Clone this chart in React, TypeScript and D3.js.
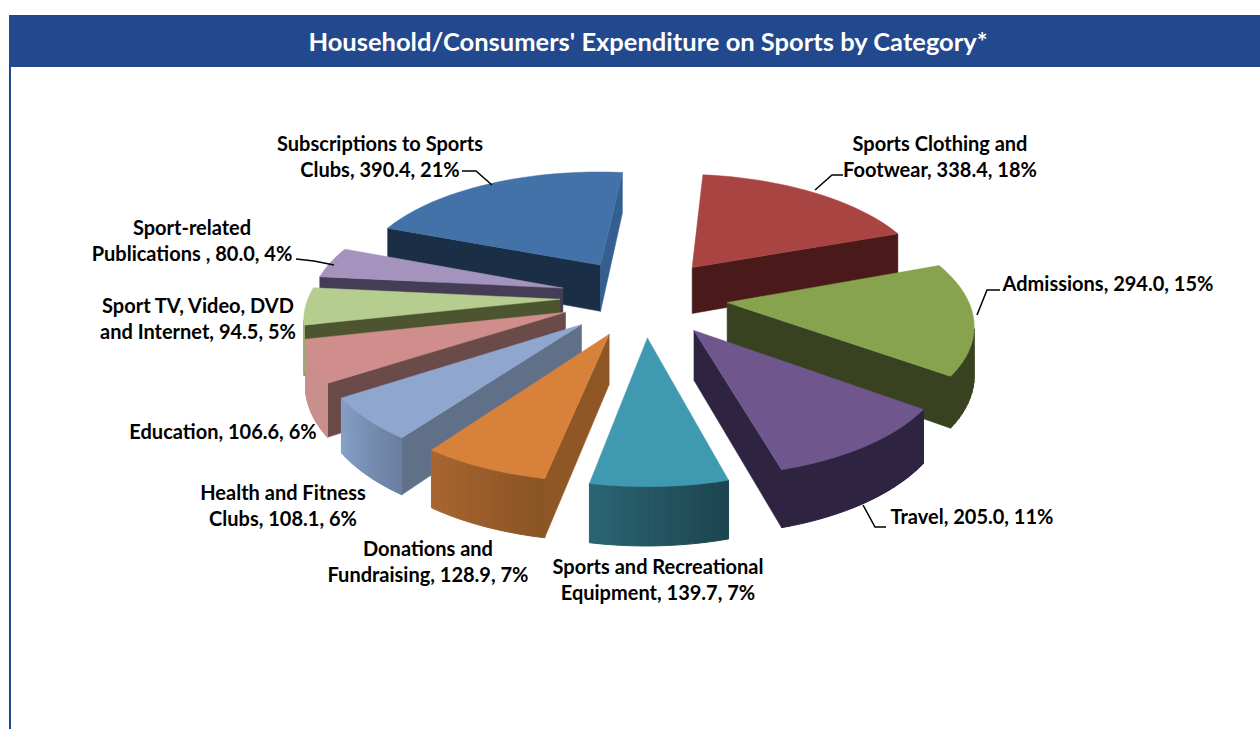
import * as d3 from "d3";

const categories = [
  "Sports Clothing and\nFootwear",
  "Admissions",
  "Travel",
  "Sports and Recreational\nEquipment",
  "Donations and\nFundraising",
  "Health and Fitness\nClubs",
  "Education",
  "Sport TV, Video, DVD\nand Internet",
  "Sport-related\nPublications ",
  "Subscriptions to Sports\nClubs",
];
const values = [338.4, 294.0, 205.0, 139.7, 128.9, 108.1, 106.6, 94.5, 80.0, 390.4];
const shares = [18, 15, 11, 7, 7, 6, 6, 5, 4, 21];

const topColors = ["#a84442", "#87a34d", "#6f568d", "#3f99b1", "#d8813a", "#8fa6cf", "#cf8e8b", "#b6cd90", "#a493bd", "#4272a8"];
const startWallColors = ["#4a1a1a", "#384220", "#2e2340", "#245a68", "#8f5725", "#5f7088", "#6b4a4a", "#4d5530", "#453c55", "#1a2e45"];
const endWallColors = ["#4a1a1a", "#384220", "#2e2340", "#245a68", "#b06a2c", "#5f7088", "#6b4a4a", "#4d5530", "#453c55", "#345f90"];
const outerFromColors = ["#4a1a1a", "#384220", "#2e2340", "#1c4550", "#8a5525", "#6a7ea0", "#c98f8c", "#9db07a", "#453c55", "#1a2e45"];
const outerToColors = ["#4a1a1a", "#384220", "#2e2340", "#2a6472", "#a86530", "#84a0c4", "#c98f8c", "#9db07a", "#453c55", "#1a2e45"];

const labelAnchors: [number, number][] = [
  [940, 151], [1108, 291], [972, 524], [658, 574], [428, 556],
  [283, 500], [223, 439], [198, 313], [192, 235], [380, 151],
];
const leaders: [number, number][][] = [
  [[815, 190], [832, 175], [843, 175]],
  [[977, 315], [987, 290], [1000, 290]],
  [[863, 505], [875, 527], [886, 527]],
  [],
  [],
  [],
  [],
  [],
  [[296, 259], [314, 261], [334, 265]],
  [[462, 171], [476, 171], [492, 185]],
];

const WIDTH = 1260;
const HEIGHT = 729;
const cx = 644;
const cy = 297;
const rx = 245;
const ry = 114;
const persp = 0.143;
const shear = 0.08;
const roll = 0.045;
const explode = 0.34;
const depth = 48;
const FONT = "Lato, 'Open Sans', sans-serif";
const BLUE = "#22488d";

const arcs = d3.pie<number>().sort(null).startAngle(0).endAngle(2 * Math.PI)(values);
const lineGen = d3.line<[number, number]>().curve(d3.curveLinearClosed);

function project(x: number, z: number, h: number): [number, number] {
  const s = 1 / (1 + persp * z);
  return [cx + rx * (x + shear * z) * s, cy + (roll * rx * x - ry * z + depth * h) * s];
}

// d3.polygonArea is negative for clockwise-on-screen rings, flip it
function shoelace(pts: [number, number][]) {
  return -d3.polygonArea(pts);
}

function Slice({ i }: { i: number }) {
  const a = arcs[i];
  const mid = (a.startAngle + a.endAngle) / 2;
  const ox = explode * Math.sin(mid);
  const oz = explode * Math.cos(mid);
  const pt = (ang: number, r: number, h: number) =>
    project(ox + r * Math.sin(ang), oz + r * Math.cos(ang), h);

  const steps = d3.range(0, 25).map((k) => a.startAngle + ((a.endAngle - a.startAngle) * k) / 24);
  const tipTop = pt(0, 0, 0);
  const tipBottom = pt(0, 0, 1);
  const top: [number, number][] = [tipTop, ...steps.map((t) => pt(t, 1, 0))];

  const startWall: [number, number][] = [tipTop, pt(a.startAngle, 1, 0), pt(a.startAngle, 1, 1), tipBottom];
  const endWall: [number, number][] = [tipTop, pt(a.endAngle, 1, 0), pt(a.endAngle, 1, 1), tipBottom];
  const shade = d3.interpolateRgb(outerFromColors[i], outerToColors[i]);

  const segs = steps.slice(0, -1).map((t, k) => {
    const t2 = steps[k + 1];
    const quad: [number, number][] = [pt(t, 1, 0), pt(t2, 1, 0), pt(t2, 1, 1), pt(t, 1, 1)];
    return { quad, color: shade(k / 23) };
  });

  return (
    <g>
      {shoelace(startWall) < 0 && <path d={lineGen(startWall)!} fill={startWallColors[i]} stroke={startWallColors[i]} strokeWidth={0.5} />}
      {shoelace(endWall) > 0 && <path d={lineGen(endWall)!} fill={endWallColors[i]} stroke={endWallColors[i]} strokeWidth={0.5} />}
      {segs.filter((s) => shoelace(s.quad) < 0).map((s, k) => (
        <path key={k} d={lineGen(s.quad)!} fill={s.color} stroke={s.color} strokeWidth={1} />
      ))}
      <path d={lineGen(top)!} fill={topColors[i]} stroke={topColors[i]} strokeWidth={0.5} />
    </g>
  );
}

export default function App() {
  // far slices first so the near ones paint over them
  const order = d3.range(values.length).sort((p, q) => {
    const zp = Math.cos((arcs[p].startAngle + arcs[p].endAngle) / 2);
    const zq = Math.cos((arcs[q].startAngle + arcs[q].endAngle) / 2);
    return zq - zp;
  });

  return (
    <svg width={WIDTH} height={HEIGHT} viewBox={`0 0 ${WIDTH} ${HEIGHT}`} style={{ position: "absolute", left: 0, top: 0, display: "block", background: "#fff" }}>
      <rect x={9} y={15} width={WIDTH - 9} height={52} fill={BLUE} />
      <rect x={9} y={67} width={2} height={HEIGHT - 67} fill={BLUE} />
      <text x={648} y={51} textAnchor="middle" fill="#fff" fontFamily={FONT} fontWeight={700} fontSize={25.5}>
        Household/Consumers' Expenditure on Sports by Category*
      </text>
      {order.map((i) => (
        <Slice key={i} i={i} />
      ))}
      {leaders.map((pts, i) =>
        pts.length ? (
          <path key={i} d={d3.line()(pts)!} fill="none" stroke="#000" strokeWidth={1.5} />
        ) : null
      )}
      {categories.map((name, i) => {
        const lines = `${name}, ${values[i].toFixed(1)}, ${shares[i]}%`.split("\n");
        return (
          <text key={i} textAnchor="middle" fontFamily={FONT} fontWeight={700} fontSize={20} fill="#000">
            {lines.map((line, j) => (
              <tspan key={j} x={labelAnchors[i][0]} y={labelAnchors[i][1] + j * 26} style={{ whiteSpace: "pre" }}>
                {line}
              </tspan>
            ))}
          </text>
        );
      })}
    </svg>
  );
}
